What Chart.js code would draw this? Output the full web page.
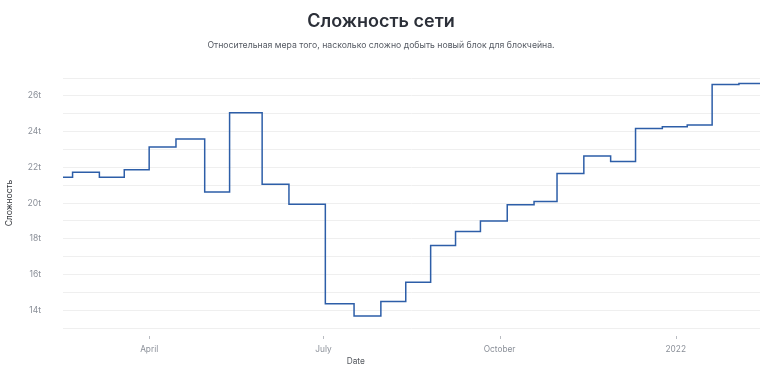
<!DOCTYPE html>
<html lang="ru">
<head>
<meta charset="utf-8">
<title>Сложность сети</title>
<script src="https://cdn.jsdelivr.net/npm/chart.js@4.4.1/dist/chart.umd.min.js"></script>
<style>
    html, body { margin: 0; padding: 0; background: #fff; }
    #wrap { width: 775px; height: 373px; }
</style>
</head>
<body>
<div id="wrap"><canvas id="difficulte"></canvas></div>
<script>
// ── Données ───────────────────────────────────────────────────────────
// Dates de réajustement et difficulté (en t = 10^12)
const DATES = [
    '2021-02-15', '2021-02-20', '2021-03-06', '2021-03-19', '2021-04-01',
    '2021-04-15', '2021-04-30', '2021-05-13', '2021-05-30', '2021-06-13',
    '2021-07-02', '2021-07-17', '2021-07-31', '2021-08-13', '2021-08-26',
    '2021-09-08', '2021-09-21', '2021-10-05', '2021-10-19', '2021-10-31',
    '2021-11-14', '2021-11-28', '2021-12-11', '2021-12-25', '2022-01-07',
    '2022-01-20', '2022-02-03', '2022-02-14',
];
const DIFFICULTE = [
    21.45, 21.72, 21.45, 21.87, 23.14,
    23.58, 20.62, 25.05, 21.05, 19.93,
    14.36, 13.67, 14.49, 15.56, 17.62,
    18.41, 18.99, 19.90, 20.08, 21.66,
    22.63, 22.33, 24.17, 24.27, 24.37,
    26.64, 26.69, 26.69,
];

// Graduations de l'axe X
const TICKS_X_DATES  = ['2021-04-01', '2021-07-01', '2021-10-01', '2022-01-01'];
const TICKS_X_LABELS = ['April', 'July', 'October', '2022'];

const X_MIN = '2021-02-15';
const X_MAX = '2022-02-14';

// ── Helpers ───────────────────────────────────────────────────────────
/** Convertit 'AAAA-MM-JJ' en nombre de jours depuis l'epoch */
function jour(iso) {
    const [a, m, j] = iso.split('-').map(Number);
    return Date.UTC(a, m - 1, j) / 86400000;
}

const POINTS  = DATES.map((d, i) => ({ x: jour(d), y: DIFFICULTE[i] }));
const TICKS_X = TICKS_X_DATES.map(jour);

Chart.defaults.font.family = 'Inter, "Noto Sans", sans-serif';
Chart.defaults.color = '#8a8f98';

/**
 * Petits traits de graduation sous l'axe X (détachés de la zone de tracé)
 * et titre « Date », décalé à gauche du centre comme sur l'original.
 */
const axeX = {
    id: 'axeX',
    afterDraw(chart) {
        const { ctx, scales: { x }, chartArea } = chart;
        ctx.save();
        ctx.strokeStyle = '#b9bcc2';
        ctx.lineWidth = 1;
        TICKS_X.forEach(v => {
            const px = Math.round(x.getPixelForValue(v)) + 0.5;
            ctx.beginPath();
            ctx.moveTo(px, chartArea.bottom + 8);
            ctx.lineTo(px, chartArea.bottom + 11);
            ctx.stroke();
        });
        ctx.fillStyle = '#55595f';
        ctx.font = '8.3px Inter, "Noto Sans", sans-serif';
        ctx.textAlign = 'center';
        ctx.textBaseline = 'middle';
        ctx.fillText('Date', chartArea.left + (chartArea.right - chartArea.left) * 0.42, chartArea.bottom + 34);
        ctx.restore();
    },
};

new Chart(document.getElementById('difficulte'), {
    type: 'line',
    data: {
        datasets: [{
            data:        POINTS,
            borderColor: '#2d5ea8',
            borderWidth: 1.5,
            pointRadius: 0,
            stepped:     'before',
            fill:        false,
        }],
    },
    options: {
        responsive:          true,
        maintainAspectRatio: false,
        animation:           false,
        layout: { padding: { left: 2, right: 15, top: 0, bottom: 5 } },
        plugins: {
            legend:  { display: false },
            tooltip: { enabled: false },
            title: {
                display: true,
                text:    'Сложность сети',
                color:   '#2b2f38',
                font:    { size: 18, weight: '600' },
                padding: { top: 11, bottom: 8 },
            },
            subtitle: {
                display: true,
                text:    'Относительная мера того, насколько сложно добыть новый блок для блокчейна.',
                color:   '#555a63',
                font:    { size: 8.7 },
                padding: { top: 0, bottom: 27 },
            },
        },
        scales: {
            x: {
                type:   'linear',
                min:    jour(X_MIN),
                max:    jour(X_MAX),
                border: { display: false },
                grid:   { display: false, drawTicks: false },
                afterBuildTicks: s => { s.ticks = TICKS_X.map(v => ({ value: v })); },
                afterFit: s => { s.height = 40; },
                ticks: {
                    autoSkip:    false,
                    maxRotation: 0,
                    padding:     17,
                    font:        { size: 8.3 },
                    callback:    v => TICKS_X_LABELS[TICKS_X.indexOf(v)] ?? '',
                },
            },
            y: {
                min:    13,
                max:    27,
                border: { display: false },
                grid:   { color: '#efefef', drawTicks: false },
                afterFit: s => { s.width = 61; },
                ticks: {
                    stepSize: 1,
                    autoSkip: false,
                    padding:  22,
                    font:     { size: 8.5 },
                    callback: v => (v % 2 === 0 ? v + 't' : ''),
                },
                title: {
                    display: true,
                    text:    'Сложность',
                    color:   '#33363b',
                    font:    { size: 8.5 },
                    padding: { top: 2, bottom: 0 },
                },
            },
        },
    },
    plugins: [axeX],
});
</script>
</body>
</html>
